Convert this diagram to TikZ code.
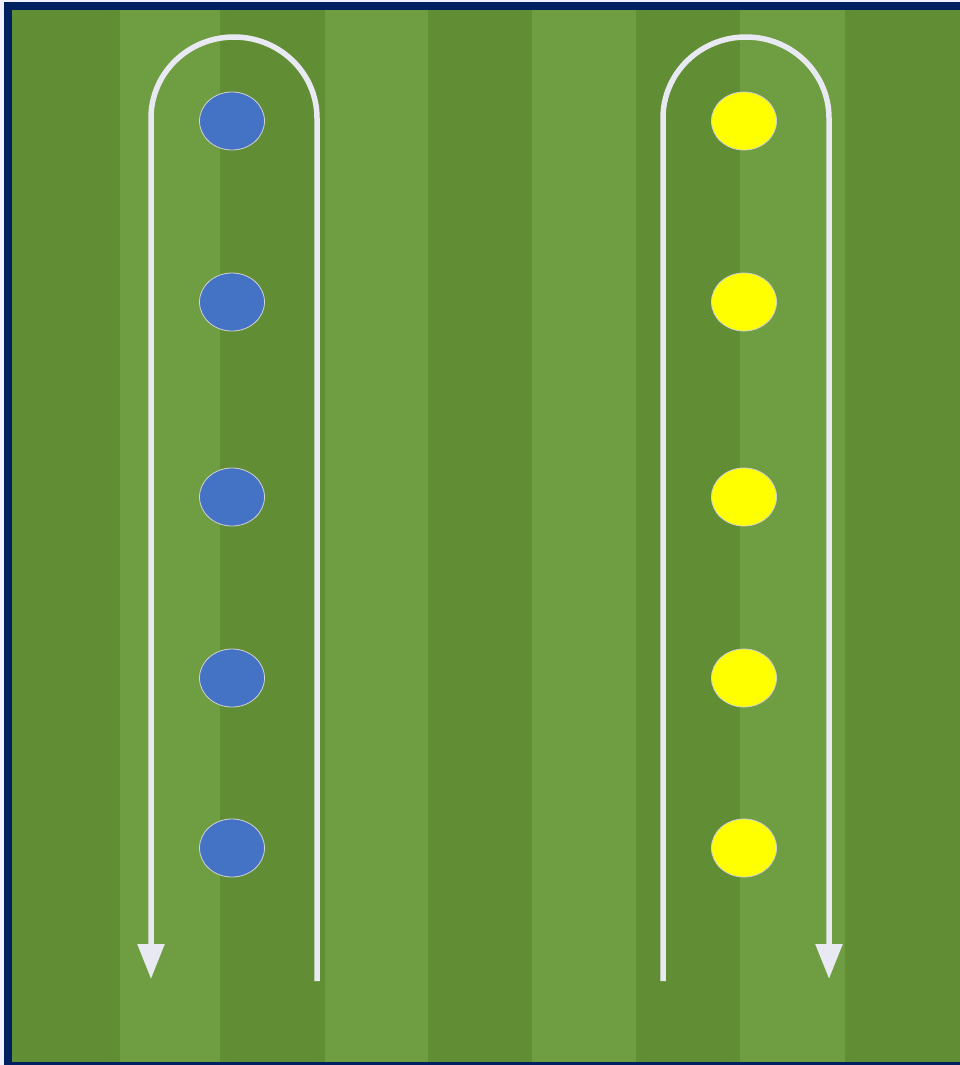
\documentclass[tikz,border=0pt]{standalone}
\usetikzlibrary{arrows.meta,shapes.geometric}
\definecolor{navy}{HTML}{002060}
\definecolor{grasslight}{HTML}{6F9D41}
\definecolor{grassdark}{HTML}{618E35}
\definecolor{runline}{HTML}{E9E9F3}
\definecolor{coneblue}{HTML}{4472C4}
\definecolor{coneyellow}{HTML}{FFFF00}
\tikzset{
  cone/.style={ellipse, minimum width=65pt, minimum height=58pt, inner sep=0pt, draw=black!18, line width=0.8pt},
  bluecone/.style={cone, fill=coneblue},
  yellowcone/.style={cone, fill=coneyellow},
  runpath/.style={draw=runline, line width=5.5pt},
  runarrow/.style={runpath, -{Triangle[length=35pt,width=26pt]}},
  lightstripe/.style={fill=grasslight},
  darkstripe/.style={fill=grassdark}
}
\begin{document}
\begin{tikzpicture}[x=1pt,y=-1pt]
\useasboundingbox (0,0) rectangle (960,1065);
\fill[white!94!blue] (0,0) rectangle (960,1065);
% grass stripes
\fill[darkstripe] (12,10) rectangle (120,1062);
\fill[lightstripe] (120,10) rectangle (220,1062);
\fill[darkstripe] (220,10) rectangle (325,1062);
\fill[lightstripe] (325,10) rectangle (428,1062);
\fill[darkstripe] (428,10) rectangle (532,1062);
\fill[lightstripe] (532,10) rectangle (636,1062);
\fill[darkstripe] (636,10) rectangle (740,1062);
\fill[lightstripe] (740,10) rectangle (845,1062);
\fill[darkstripe] (845,10) rectangle (960,1062);
% frame
\fill[navy] (4,2) rectangle (960,10);
\fill[navy] (4,2) rectangle (12,1065);
\fill[navy] (4,1062) rectangle (960,1065);
% cones
\foreach \i/\y in {1/121,2/302,3/497,4/678,5/848}{
  \node[bluecone] (b\i) at (232,\y) {};
  \node[yellowcone] (y\i) at (744,\y) {};
}
% paths
\coordinate (ls) at (317,981);
\coordinate (lt) at (317,118);
\coordinate (le) at (151,979);
\coordinate (rs) at (663,981);
\coordinate (rt) at (663,118);
\coordinate (re) at (829,979);
\draw[runarrow] (ls) -- (lt) arc[start angle=0, end angle=-180, x radius=83, y radius=81] -- (le);
\draw[runarrow] (rs) -- (rt) arc[start angle=180, end angle=360, x radius=83, y radius=81] -- (re);
\end{tikzpicture}
\end{document}
